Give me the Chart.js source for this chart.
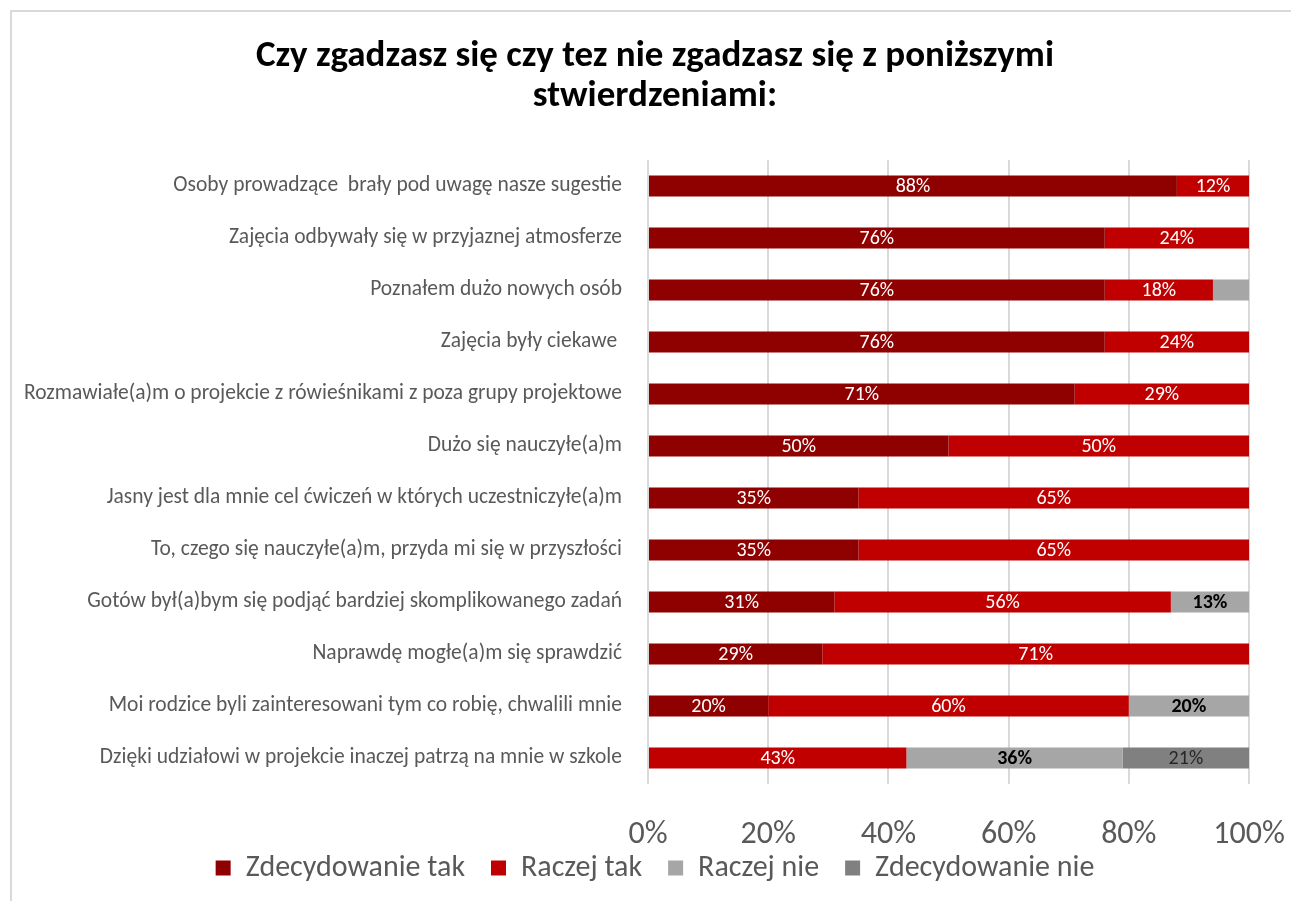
<!DOCTYPE html>
<html>
<head>
<meta charset="utf-8">
<script src="https://cdn.jsdelivr.net/npm/chart.js@4"></script>
<style>
  html, body { margin: 0; padding: 0; background: #ffffff; }
  #frame { position: absolute; left: 10px; top: 10px; width: 1300px; height: 900px;
           border-left: 2px solid #d9d9d9; border-top: 2px solid #d9d9d9; }
  #wrap { position: absolute; left: 0; top: 0; width: 1291px; height: 901px; }
</style>
</head>
<body>
<div id="frame"></div>
<div id="wrap"><canvas id="c" width="1291" height="901"></canvas></div>
<script>
const titleLines = ["Czy zgadzasz się czy tez nie zgadzasz się z poniższymi", "stwierdzeniami:"];
const categories = [
  "Osoby prowadzące  brały pod uwagę nasze sugestie",
  "Zajęcia odbywały się w przyjaznej atmosferze",
  "Poznałem dużo nowych osób",
  "Zajęcia były ciekawe ",
  "Rozmawiałe(a)m o projekcie z rówieśnikami z poza grupy projektowe",
  "Dużo się nauczyłe(a)m",
  "Jasny jest dla mnie cel ćwiczeń w których uczestniczyłe(a)m",
  "To, czego się nauczyłe(a)m, przyda mi się w przyszłości",
  "Gotów był(a)bym się podjąć bardziej skomplikowanego zadań",
  "Naprawdę mogłe(a)m się sprawdzić",
  "Moi rodzice byli zainteresowani tym co robię, chwalili mnie",
  "Dzięki udziałowi w projekcie inaczej patrzą na mnie w szkole"
];
const seriesNames = ["Zdecydowanie tak", "Raczej tak", "Raczej nie", "Zdecydowanie nie"];
const zdecydowanieTak   = [88, 76, 76, 76, 71, 50, 35, 35, 31, 29, 20, 0];
const raczejTak         = [12, 24, 18, 24, 29, 50, 65, 65, 56, 71, 60, 43];
const raczejNie         = [0, 0, 6, 0, 0, 0, 0, 0, 13, 0, 20, 36];
const zdecydowanieNie   = [0, 0, 0, 0, 0, 0, 0, 0, 0, 0, 0, 21];
const xTicks = [0, 20, 40, 60, 80, 100];

const FONT = "Carlito, 'Liberation Sans Narrow', Lato, sans-serif";
const colors = ["#8f0000", "#c00000", "#a6a6a6", "#808080"];
const labelStyles = [
  {color: "#ffffff", weight: "normal"},
  {color: "#ffffff", weight: "normal"},
  {color: "#000000", weight: "bold"},
  {color: "#262626", weight: "normal"}
];

const valueLabels = {
  id: 'valueLabels',
  afterDatasetsDraw(chart) {
    const ctx = chart.ctx;
    chart.data.datasets.forEach((ds, di) => {
      const meta = chart.getDatasetMeta(di);
      const st = labelStyles[di];
      meta.data.forEach((bar, i) => {
        const v = ds.data[i];
        if (!v || v < 10) return;
        const p = bar.getProps(['x', 'y', 'base'], true);
        ctx.save();
        ctx.font = st.weight + " 20px " + FONT;
        ctx.fillStyle = st.color;
        ctx.textAlign = 'center';
        ctx.textBaseline = 'middle';
        ctx.fillText(v + "%", (p.x + p.base) / 2, p.y + 1);
        ctx.restore();
      });
    });
  }
};

// let axis labels run past their boxes instead of being clipped
const unclipAxes = {
  id: 'unclipAxes',
  beforeDraw(chart) {
    chart.scales.y.left = 0;
    chart.scales.x.bottom = chart.height;
  }
};

const allSeries = [zdecydowanieTak, raczejTak, raczejNie, zdecydowanieNie];

new Chart(document.getElementById('c'), {
  type: 'bar',
  data: {
    labels: categories,
    datasets: seriesNames.map((n, i) => ({
      label: n,
      data: allSeries[i],
      backgroundColor: colors[i],
      borderWidth: 0,
      barPercentage: 0.405,
      categoryPercentage: 1.0
    }))
  },
  options: {
    indexAxis: 'y',
    responsive: false,
    animation: false,
    layout: { padding: { top: 30, left: 61, right: 42, bottom: 8 } },
    plugins: {
      title: {
        display: true,
        text: titleLines,
        color: '#000000',
        font: { family: FONT, size: 37, weight: 'bold', lineHeight: 1.08 },
        padding: { top: 7, bottom: 43 }
      },
      legend: {
        position: 'bottom',
        labels: {
          color: '#595959',
          font: { family: FONT, size: 30 },
          boxWidth: 15, boxHeight: 15,
          padding: 26
        }
      },
      tooltip: { enabled: false }
    },
    scales: {
      x: {
        stacked: true,
        min: 0, max: 100,
        afterBuildTicks(scale) { scale.ticks = xTicks.map(v => ({value: v})); },
        afterFit(scale) { scale.height = 43; scale.paddingLeft = 0; scale.paddingRight = 0; },
        ticks: {
          color: '#595959',
          font: { family: FONT, size: 32 },
          padding: 32,
          callback: v => v + '%'
        },
        grid: { color: '#d9d9d9', lineWidth: 2, drawTicks: false },
        border: { display: false }
      },
      y: {
        stacked: true,
        afterFit(scale) { scale.width = 587; scale.paddingTop = 0; scale.paddingBottom = 0; },
        ticks: {
          color: '#595959',
          font: { family: FONT, size: 21.5 },
          padding: 26
        },
        grid: { display: false, drawTicks: false },
        border: { display: false }
      }
    }
  },
  plugins: [valueLabels, unclipAxes]
});
</script>
</body>
</html>
